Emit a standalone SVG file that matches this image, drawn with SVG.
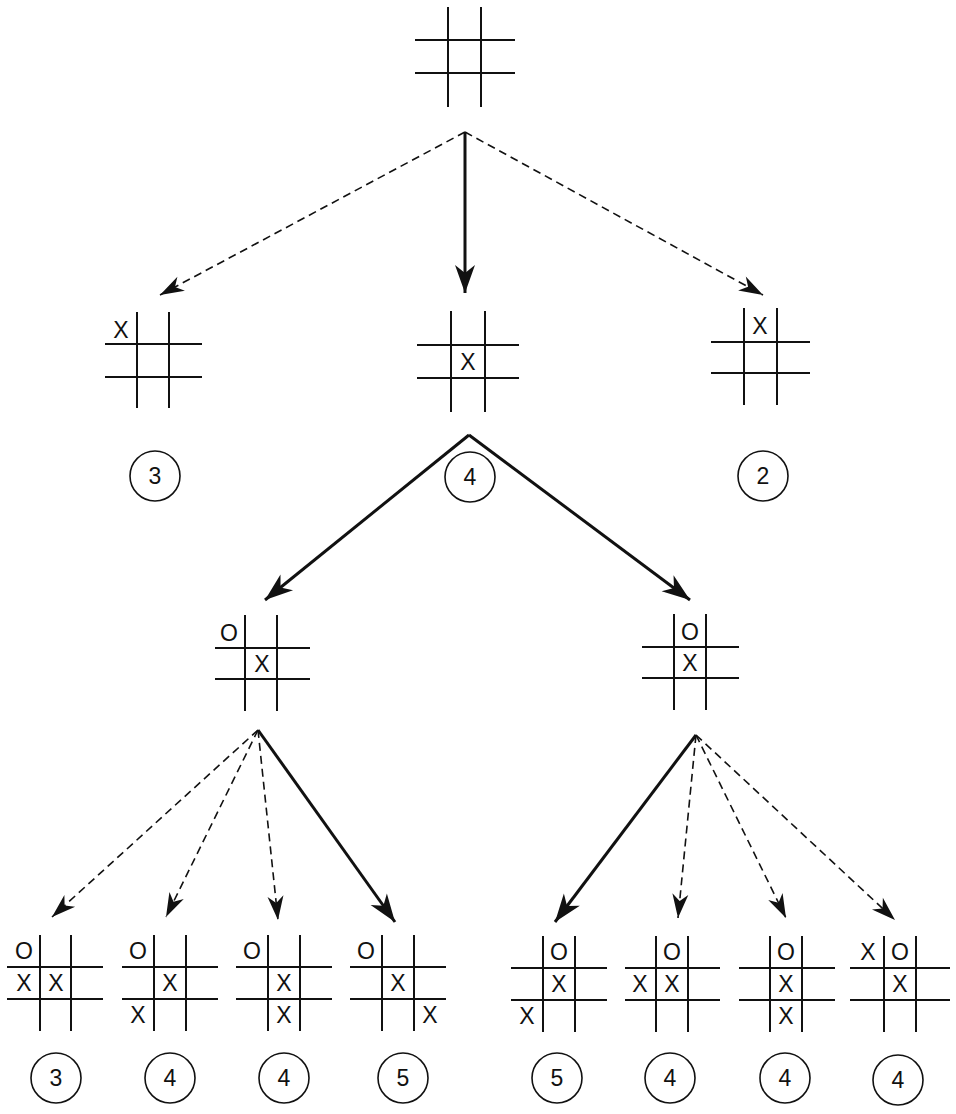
<svg xmlns="http://www.w3.org/2000/svg" width="956" height="1114" viewBox="0 0 956 1114">
<style>
.g line{stroke:#111;stroke-width:2}
text{font-family:"Liberation Sans",Arial,sans-serif;font-size:23px;fill:#111;text-anchor:middle}
.c{fill:none;stroke:#111;stroke-width:1.6}
.d{stroke:#111;stroke-width:1.6;stroke-dasharray:8,5;fill:none}
.s{stroke:#111;stroke-width:3;fill:none}
</style>
<defs>
<marker id="ah" markerUnits="userSpaceOnUse" markerWidth="30" markerHeight="20" viewBox="-26 -10 28 20" refX="0" refY="0" orient="auto"><path d="M0,0 L-24,-8 L-17,0 L-24,8 z" fill="#111"/></marker>
<marker id="ahb" markerUnits="userSpaceOnUse" markerWidth="34" markerHeight="24" viewBox="-30 -12 32 24" refX="0" refY="0" orient="auto"><path d="M0,0 L-28,-10 L-20,0 L-28,10 z" fill="#111"/></marker>
</defs>
<g id="connectors">
<line class="d" x1="465" y1="132" x2="160" y2="295" marker-end="url(#ah)"/>
<line class="s" x1="465" y1="132" x2="465" y2="293" marker-end="url(#ahb)"/>
<line class="d" x1="465" y1="132" x2="763" y2="295" marker-end="url(#ah)"/>
<line class="s" x1="469" y1="435" x2="265" y2="600" marker-end="url(#ahb)"/>
<line class="s" x1="469" y1="435" x2="690" y2="600" marker-end="url(#ahb)"/>
<line class="d" x1="258" y1="730" x2="52" y2="917" marker-end="url(#ah)"/>
<line class="d" x1="258" y1="730" x2="166" y2="917" marker-end="url(#ah)"/>
<line class="d" x1="258" y1="730" x2="278" y2="920" marker-end="url(#ah)"/>
<line class="s" x1="258" y1="730" x2="395" y2="922" marker-end="url(#ahb)"/>
<line class="s" x1="696" y1="735" x2="555" y2="922" marker-end="url(#ahb)"/>
<line class="d" x1="696" y1="735" x2="678" y2="918" marker-end="url(#ah)"/>
<line class="d" x1="696" y1="735" x2="786" y2="918" marker-end="url(#ah)"/>
<line class="d" x1="696" y1="735" x2="895" y2="920" marker-end="url(#ah)"/>
</g>
<g id="root" class="g"><line x1="448" y1="7" x2="448" y2="107"/><line x1="481" y1="7" x2="481" y2="107"/><line x1="415" y1="40" x2="515" y2="40"/><line x1="415" y1="73" x2="515" y2="73"/></g>
<g id="l1a" class="g"><line x1="137" y1="312" x2="137" y2="408"/><line x1="169" y1="312" x2="169" y2="408"/><line x1="105" y1="344" x2="202" y2="344"/><line x1="105" y1="377" x2="202" y2="377"/><text x="121" y="338">X</text><circle class="c" cx="155" cy="476" r="25"/><text x="155" y="484">3</text></g>
<g id="l1b" class="g"><line x1="451" y1="311" x2="451" y2="412"/><line x1="485" y1="311" x2="485" y2="412"/><line x1="417" y1="345" x2="519" y2="345"/><line x1="417" y1="378" x2="519" y2="378"/><text x="468" y="370">X</text><circle class="c" cx="470" cy="477" r="25"/><text x="470" y="485">4</text></g>
<g id="l1c" class="g"><line x1="744" y1="308" x2="744" y2="405"/><line x1="777" y1="308" x2="777" y2="405"/><line x1="711" y1="342" x2="810" y2="342"/><line x1="711" y1="373" x2="810" y2="373"/><text x="760" y="334">X</text><circle class="c" cx="763" cy="476" r="25"/><text x="763" y="484">2</text></g>
<g id="l2a" class="g"><line x1="245" y1="615" x2="245" y2="711"/><line x1="277" y1="615" x2="277" y2="711"/><line x1="215" y1="648" x2="310" y2="648"/><line x1="215" y1="679" x2="310" y2="679"/><text x="229" y="641">O</text><text x="262" y="672">X</text></g>
<g id="l2b" class="g"><line x1="674" y1="614" x2="674" y2="710"/><line x1="706" y1="614" x2="706" y2="710"/><line x1="642" y1="647" x2="739" y2="647"/><line x1="642" y1="678" x2="739" y2="678"/><text x="690" y="640">O</text><text x="690" y="671">X</text></g>
<g id="l3a" class="g"><line x1="40" y1="935" x2="40" y2="1031"/><line x1="71" y1="935" x2="71" y2="1031"/><line x1="7" y1="967" x2="103" y2="967"/><line x1="7" y1="999" x2="103" y2="999"/><text x="24" y="959">O</text><text x="24" y="991">X</text><text x="56" y="991">X</text><circle class="c" cx="56" cy="1078" r="25"/><text x="56" y="1086">3</text></g>
<g id="l3b" class="g"><line x1="154" y1="935" x2="154" y2="1031"/><line x1="186" y1="935" x2="186" y2="1031"/><line x1="122" y1="967" x2="218" y2="967"/><line x1="122" y1="999" x2="218" y2="999"/><text x="138" y="959">O</text><text x="170" y="991">X</text><text x="138" y="1023">X</text><circle class="c" cx="170" cy="1078" r="25"/><text x="170" y="1086">4</text></g>
<g id="l3c" class="g"><line x1="268" y1="935" x2="268" y2="1031"/><line x1="300" y1="935" x2="300" y2="1031"/><line x1="236" y1="967" x2="332" y2="967"/><line x1="236" y1="999" x2="332" y2="999"/><text x="252" y="959">O</text><text x="284" y="991">X</text><text x="284" y="1023">X</text><circle class="c" cx="284" cy="1078" r="25"/><text x="284" y="1086">4</text></g>
<g id="l3d" class="g"><line x1="382" y1="935" x2="382" y2="1031"/><line x1="414" y1="935" x2="414" y2="1031"/><line x1="350" y1="967" x2="446" y2="967"/><line x1="350" y1="999" x2="446" y2="999"/><text x="366" y="959">O</text><text x="398" y="991">X</text><text x="430" y="1023">X</text><circle class="c" cx="403" cy="1078" r="25"/><text x="403" y="1086">5</text></g>
<g id="l3e" class="g"><line x1="543" y1="936" x2="543" y2="1032"/><line x1="575" y1="936" x2="575" y2="1032"/><line x1="511" y1="968" x2="607" y2="968"/><line x1="511" y1="1000" x2="607" y2="1000"/><text x="559" y="960">O</text><text x="559" y="992">X</text><text x="527" y="1024">X</text><circle class="c" cx="557" cy="1078" r="25"/><text x="557" y="1086">5</text></g>
<g id="l3f" class="g"><line x1="656" y1="936" x2="656" y2="1032"/><line x1="688" y1="936" x2="688" y2="1032"/><line x1="625" y1="968" x2="720" y2="968"/><line x1="625" y1="1000" x2="720" y2="1000"/><text x="672" y="960">O</text><text x="640" y="992">X</text><text x="672" y="992">X</text><circle class="c" cx="670" cy="1078" r="25"/><text x="670" y="1086">4</text></g>
<g id="l3g" class="g"><line x1="770" y1="936" x2="770" y2="1032"/><line x1="802" y1="936" x2="802" y2="1032"/><line x1="739" y1="968" x2="835" y2="968"/><line x1="739" y1="1000" x2="835" y2="1000"/><text x="786" y="960">O</text><text x="786" y="992">X</text><text x="786" y="1024">X</text><circle class="c" cx="785" cy="1078" r="25"/><text x="785" y="1086">4</text></g>
<g id="l3h" class="g"><line x1="884" y1="936" x2="884" y2="1032"/><line x1="916" y1="936" x2="916" y2="1032"/><line x1="850" y1="968" x2="950" y2="968"/><line x1="850" y1="1000" x2="950" y2="1000"/><text x="868" y="960">X</text><text x="900" y="960">O</text><text x="900" y="992">X</text><circle class="c" cx="898" cy="1080" r="25"/><text x="898" y="1088">4</text></g>
</svg>
